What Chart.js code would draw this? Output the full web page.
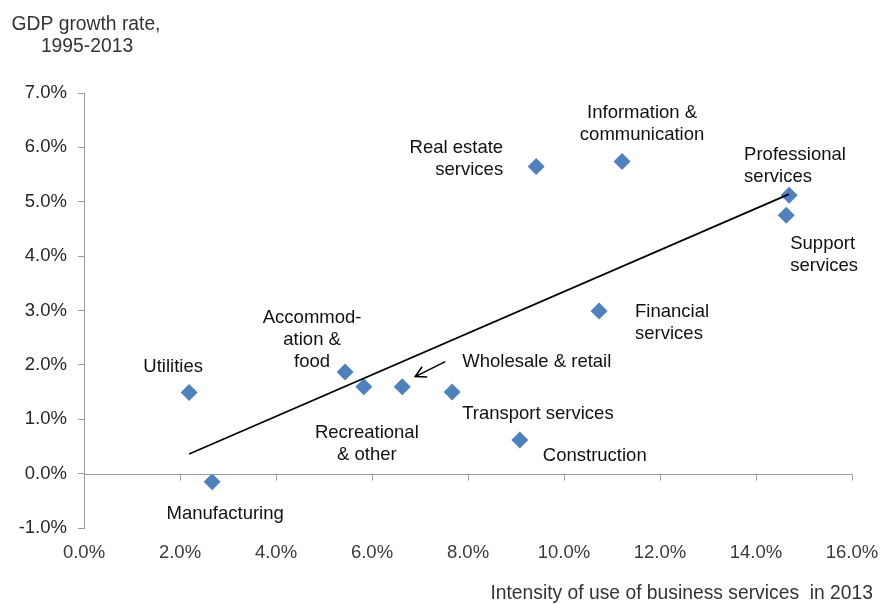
<!DOCTYPE html>
<html>
<head>
<meta charset="utf-8">
<script src="https://cdn.jsdelivr.net/npm/chart.js@4"></script>
<style>
  html, body { margin: 0; padding: 0; background: #ffffff; }
  #wrap { width: 882px; height: 604px; }
</style>
</head>
<body>
<div id="wrap"><canvas id="chart" width="882" height="604"></canvas></div>
<script>
// Sectors: intensity of use of business services (2013) vs GDP growth 1995-2013
const sectors = [
  'Utilities', 'Manufacturing', 'Accommodation & food', 'Recreational & other',
  'Wholesale & retail', 'Transport services', 'Construction', 'Real estate services',
  'Information & communication', 'Financial services', 'Professional services', 'Support services'
];
const intensity = [2.19, 2.67, 5.44, 5.83, 6.63, 7.67, 9.08, 9.42, 11.21, 10.73, 14.69, 14.63];
const growth    = [1.49, -0.15, 1.87, 1.60, 1.60, 1.50, 0.62, 5.65, 5.74, 2.99, 5.12, 4.75];

// Linear trend line, start and end
const trendX = [2.19, 14.69];
const trendY = [0.36, 5.14];

// Axis ticks
const xTicks = [0, 2, 4, 6, 8, 10, 12, 14, 16];
const yTicks = [-1, 0, 1, 2, 3, 4, 5, 6, 7];

const yTitle = ['GDP growth rate,', '1995-2013'];
const xTitle = 'Intensity of use of business services  in 2013';

// Label text and placement around each marker (pixel offsets)
const labelLayout = {
  'Utilities':                   { lines: ['Utilities'], dx: -16, dy: -26, align: 'center' },
  'Manufacturing':               { lines: ['Manufacturing'], dx: 13, dy: 32, align: 'center' },
  'Accommodation & food':        { lines: ['Accommod-', 'ation &', 'food'], dx: -33, dy: -54, align: 'center' },
  'Recreational & other':        { lines: ['Recreational', '& other'], dx: 3, dy: 46, align: 'center' },
  'Wholesale & retail':          { lines: ['Wholesale & retail'], dx: 60, dy: -25, align: 'left' },
  'Transport services':          { lines: ['Transport services'], dx: 10, dy: 22, align: 'left' },
  'Construction':                { lines: ['Construction'], dx: 23, dy: 16, align: 'left' },
  'Real estate services':        { lines: ['Real estate', 'services'], dx: -33, dy: -19, align: 'right' },
  'Information & communication': { lines: ['Information &', 'communication'], dx: 20, dy: -49, align: 'center' },
  'Financial services':          { lines: ['Financial', 'services'], dx: 36, dy: 1, align: 'left' },
  'Professional services':       { lines: ['Professional', 'services'], dx: -45, dy: -40, align: 'left' },
  'Support services':            { lines: ['Support', 'services'], dx: 4, dy: 29, align: 'left' }
};

const FONT = '"Liberation Sans", Arial, sans-serif';
const LABEL_FONT = '18.5px ' + FONT;
const LINE_H = 22;

const points = intensity.map((v, i) => ({ x: v, y: growth[i] }));
const trend = trendX.map((v, i) => ({ x: v, y: trendY[i] }));

const annotations = {
  id: 'annotations',
  afterDatasetsDraw(chart) {
    const { ctx, scales: { x, y }, chartArea } = chart;
    ctx.save();

    // horizontal axis line through zero with downward tick marks
    const y0 = Math.round(y.getPixelForValue(0)) + 0.5;
    ctx.strokeStyle = '#9a9a9a';
    ctx.lineWidth = 1;
    ctx.beginPath();
    ctx.moveTo(chartArea.left, y0);
    ctx.lineTo(chartArea.right, y0);
    xTicks.forEach(t => {
      if (t === 0) return;
      const px = Math.round(x.getPixelForValue(t)) + 0.5;
      ctx.moveTo(px, y0);
      ctx.lineTo(px, y0 + 6);
    });
    ctx.stroke();

    // arrow pointing at Wholesale & retail
    const wi = sectors.indexOf('Wholesale & retail');
    const wx = x.getPixelForValue(intensity[wi]);
    const wy = y.getPixelForValue(growth[wi]);
    const tail = { x: wx + 43, y: wy - 25 };
    const head = { x: wx + 13, y: wy - 10 };
    const ang = Math.atan2(head.y - tail.y, head.x - tail.x);
    ctx.strokeStyle = '#000000';
    ctx.lineWidth = 1.6;
    ctx.beginPath();
    ctx.moveTo(tail.x, tail.y);
    ctx.lineTo(head.x, head.y);
    const a = 12, spread = 0.5;
    ctx.moveTo(head.x - a * Math.cos(ang - spread), head.y - a * Math.sin(ang - spread));
    ctx.lineTo(head.x, head.y);
    ctx.lineTo(head.x - a * Math.cos(ang + spread), head.y - a * Math.sin(ang + spread));
    ctx.stroke();

    // sector labels
    ctx.fillStyle = '#111111';
    ctx.font = LABEL_FONT;
    ctx.textBaseline = 'middle';
    sectors.forEach((name, i) => {
      const L = labelLayout[name];
      const px = x.getPixelForValue(intensity[i]);
      const py = y.getPixelForValue(growth[i]);
      ctx.textAlign = L.align;
      L.lines.forEach((line, k) => {
        ctx.fillText(line, px + L.dx, py + L.dy + k * LINE_H);
      });
    });

    // axis titles
    ctx.fillStyle = '#333333';
    ctx.font = '19.3px ' + FONT;
    ctx.textAlign = 'center';
    ctx.fillText(yTitle[0], 86, 25);
    ctx.fillText(yTitle[1], 87, 47);
    ctx.textAlign = 'right';
    ctx.fillText(xTitle, 873, 594);

    ctx.restore();
  }
};

new Chart(document.getElementById('chart'), {
  type: 'scatter',
  data: {
    datasets: [
      {
        type: 'line',
        data: trend,
        borderColor: '#000000',
        borderWidth: 1.7,
        pointRadius: 0,
        fill: false,
        order: 0
      },
      {
        data: points,
        pointStyle: 'rectRot',
        pointRadius: 8.5,
        pointHoverRadius: 8.5,
        backgroundColor: '#4F81BD',
        borderWidth: 0,
        order: 1
      }
    ]
  },
  options: {
    responsive: false,
    animation: false,
    events: [],
    layout: { padding: { left: 0, top: 93, right: 30, bottom: 0 } },
    plugins: { legend: { display: false }, tooltip: { enabled: false } },
    scales: {
      x: {
        type: 'linear',
        min: xTicks[0],
        max: xTicks[xTicks.length - 1],
        afterBuildTicks(scale) { scale.ticks = xTicks.map(v => ({ value: v })); },
        afterFit(scale) { scale.height = 76; scale.paddingLeft = 0; scale.paddingRight = 0; },
        grid: { display: false, drawTicks: false },
        border: { display: false },
        ticks: {
          padding: 14,
          color: '#3a3a3a',
          font: { family: FONT, size: 18.5 },
          maxRotation: 0,
          callback: v => v.toFixed(1) + '%'
        }
      },
      y: {
        type: 'linear',
        min: yTicks[0],
        max: yTicks[yTicks.length - 1],
        afterBuildTicks(scale) { scale.ticks = yTicks.map(v => ({ value: v })); },
        afterFit(scale) { scale.width = 84; scale.paddingTop = 0; scale.paddingBottom = 0; },
        grid: { drawOnChartArea: false, drawTicks: true, tickLength: 6, color: '#9a9a9a' },
        border: { display: true, color: '#9a9a9a', width: 1 },
        ticks: {
          padding: 11,
          color: '#262626',
          font: { family: FONT, size: 18.5 },
          callback: v => v.toFixed(1) + '%'
        }
      }
    }
  },
  plugins: [annotations]
});
</script>
</body>
</html>
